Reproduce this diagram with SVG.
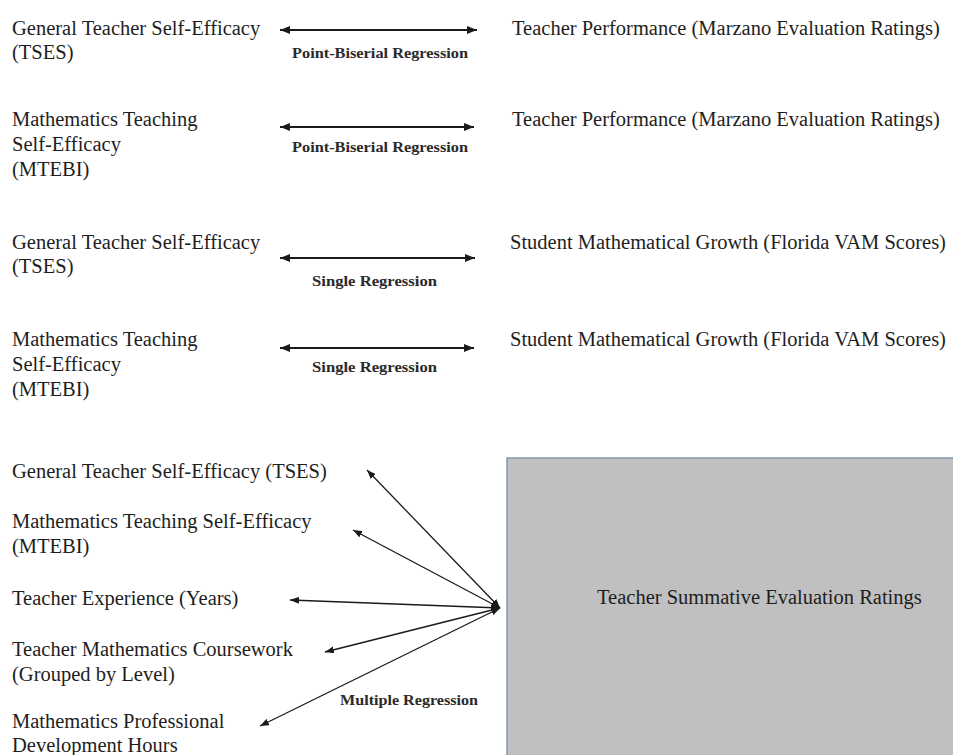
<svg xmlns="http://www.w3.org/2000/svg" width="953" height="755" viewBox="0 0 953 755">
<defs>
<style>
.t{font-family:"Liberation Serif","Times New Roman",serif;font-size:20.5px;fill:#1e1e1e}
.s{font-family:"Liberation Serif","Times New Roman",serif;font-size:14.5px;font-weight:bold;fill:#2a2a2a}
.a{stroke:#1a1a1a;stroke-width:1.8;fill:none;marker-start:url(#ah);marker-end:url(#ah)}
.b{stroke:#1a1a1a;stroke-width:1.3;fill:none;marker-start:url(#bh);marker-end:url(#bh)}
</style>
<marker id="ah" viewBox="0 0 10 8" refX="10" refY="4" markerWidth="10" markerHeight="8" markerUnits="userSpaceOnUse" orient="auto-start-reverse"><path d="M0,0 L10,4 L0,8 z" fill="#1a1a1a"/></marker>
<marker id="bh" viewBox="0 0 9 7" refX="9" refY="3.5" markerWidth="9" markerHeight="7" markerUnits="userSpaceOnUse" orient="auto-start-reverse"><path d="M0,0 L9,3.5 L0,7 z" fill="#1a1a1a"/></marker>
</defs>
<rect width="953" height="755" fill="#ffffff"/>

<g id="n-tses1"><text class="t" x="12" y="35">General Teacher Self-Efficacy</text><text class="t" x="12" y="59">(TSES)</text></g>
<g id="n-perf1"><text class="t" x="512" y="35">Teacher Performance (Marzano Evaluation Ratings)</text></g>

<g id="n-mtebi1"><text class="t" x="12" y="126">Mathematics Teaching</text><text class="t" x="12" y="151">Self-Efficacy</text><text class="t" x="12" y="176">(MTEBI)</text></g>
<g id="n-perf2"><text class="t" x="512" y="126">Teacher Performance (Marzano Evaluation Ratings)</text></g>

<g id="n-tses2"><text class="t" x="12" y="249">General Teacher Self-Efficacy</text><text class="t" x="12" y="273">(TSES)</text></g>
<g id="n-vam1"><text class="t" x="510" y="249">Student Mathematical Growth (Florida VAM Scores)</text></g>

<g id="n-mtebi2"><text class="t" x="12" y="346">Mathematics Teaching</text><text class="t" x="12" y="371">Self-Efficacy</text><text class="t" x="12" y="396">(MTEBI)</text></g>
<g id="n-vam2"><text class="t" x="510" y="346">Student Mathematical Growth (Florida VAM Scores)</text></g>

<g id="n-tses3"><text class="t" x="12" y="478">General Teacher Self-Efficacy (TSES)</text></g>
<g id="n-mtebi3"><text class="t" x="12" y="528">Mathematics Teaching Self-Efficacy</text><text class="t" x="12" y="553">(MTEBI)</text></g>
<g id="n-exp"><text class="t" x="12" y="605">Teacher Experience (Years)</text></g>
<g id="n-course"><text class="t" x="12" y="656">Teacher Mathematics Coursework</text><text class="t" x="12" y="681">(Grouped by Level)</text></g>
<g id="n-pd"><text class="t" x="12" y="728">Mathematics Professional</text><text class="t" x="12" y="752">Development Hours</text></g>

<g id="n-summ"><rect x="507" y="458" width="470" height="320" fill="#c0c0c0" stroke="#8496b0" stroke-width="1.5"/><text class="t" x="597" y="604">Teacher Summative Evaluation Ratings</text></g>

<g id="connectors">
<line class="a" x1="280" y1="30" x2="477" y2="30"/>
<text class="s" x="292" y="58" textLength="176" lengthAdjust="spacingAndGlyphs">Point-Biserial Regression</text>
<line class="a" x1="280" y1="127" x2="474" y2="127"/>
<text class="s" x="292" y="152" textLength="176" lengthAdjust="spacingAndGlyphs">Point-Biserial Regression</text>
<line class="a" x1="280" y1="258" x2="475" y2="258"/>
<text class="s" x="312" y="286" textLength="125" lengthAdjust="spacingAndGlyphs">Single Regression</text>
<line class="a" x1="280" y1="348" x2="474" y2="348"/>
<text class="s" x="312" y="372" textLength="125" lengthAdjust="spacingAndGlyphs">Single Regression</text>

<line class="b" x1="500" y1="608" x2="367" y2="470"/>
<line class="b" x1="500" y1="608" x2="353" y2="530"/>
<line class="b" x1="500" y1="608" x2="290" y2="600"/>
<line class="b" x1="500" y1="608" x2="325" y2="652"/>
<line class="b" x1="500" y1="608" x2="260" y2="726"/>
<text class="s" x="340" y="705" textLength="138" lengthAdjust="spacingAndGlyphs">Multiple Regression</text>
</g>
</svg>
